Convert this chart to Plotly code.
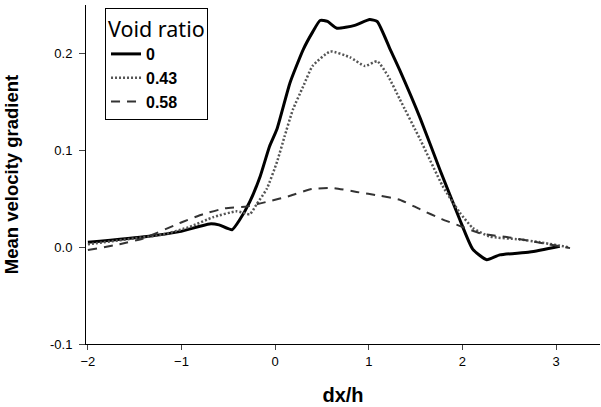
import plotly.graph_objects as go

# Void ratio = 0
x0 = [-2.0, -1.37, -1.02, -0.70, -0.60, -0.46, -0.38, -0.27, -0.16, -0.06, 0.02, 0.16, 0.30, 0.40,
      0.48, 0.56, 0.66, 0.85, 1.01, 1.09, 1.23, 1.33, 1.55, 1.76, 1.97, 2.11, 2.26, 2.40, 2.72, 3.04]
y0 = [0.005, 0.011, 0.016, 0.024, 0.023, 0.018, 0.028, 0.047, 0.073, 0.104, 0.122, 0.170, 0.204, 0.222,
      0.234, 0.233, 0.226, 0.229, 0.235, 0.233, 0.204, 0.183, 0.133, 0.080, 0.029, -0.002, -0.013, -0.008, -0.005, 0.001]

# Void ratio = 0.43
x43 = [-2.0, -1.5, -1.2, -0.91, -0.66, -0.41, -0.27, -0.20, -0.09, 0.02, 0.10, 0.19, 0.30, 0.40,
       0.59, 0.80, 0.96, 1.09, 1.21, 1.33, 1.55, 1.79, 1.97, 2.11, 2.29, 2.61, 2.83, 3.13]
y43 = [0.003, 0.009, 0.013, 0.021, 0.031, 0.037, 0.034, 0.044, 0.060, 0.088, 0.114, 0.142, 0.166, 0.187,
       0.202, 0.196, 0.187, 0.192, 0.176, 0.153, 0.111, 0.063, 0.036, 0.020, 0.011, 0.008, 0.005, 0.000]

# Void ratio = 0.58
x58 = [-2.0, -1.66, -1.41, -0.99, -0.77, -0.54, -0.30, -0.08, 0.16, 0.39, 0.62, 0.87, 1.12, 1.33,
       1.55, 1.78, 1.97, 2.2, 2.5, 2.8, 3.15]
y58 = [-0.003, 0.003, 0.009, 0.026, 0.034, 0.040, 0.042, 0.047, 0.053, 0.060, 0.061, 0.057, 0.053, 0.049,
       0.039, 0.029, 0.022, 0.014, 0.010, 0.005, -0.001]

xticks = [-2, -1, 0, 1, 2, 3]
yticks = [-0.1, 0.0, 0.1, 0.2]
ytick_labels = ["-0.1", "0.0", "0.1", "0.2"]

FONT = "Liberation Sans, Arial, sans-serif"

fig = go.Figure()
fig.add_trace(go.Scatter(x=x0, y=y0, mode="lines", name="0",
                         line=dict(color="black", width=3, shape="spline", smoothing=0.5)))
fig.add_trace(go.Scatter(x=x43, y=y43, mode="lines", name="0.43",
                         line=dict(color="#555555", width=2.5, dash="2px,2px", shape="spline", smoothing=0.5)))
fig.add_trace(go.Scatter(x=x58, y=y58, mode="lines", name="0.58",
                         line=dict(color="#333333", width=2, dash="9px,7px", shape="spline", smoothing=0.5)))

fig.update_layout(
    width=601, height=407,
    margin=dict(l=86, r=1, t=5, b=63),
    plot_bgcolor="white", paper_bgcolor="white",
    font=dict(family=FONT, color="black", size=13),
    showlegend=True,
    legend=dict(
        x=0.037, y=0.991, xanchor="left", yanchor="top",
        bordercolor="black", borderwidth=1, bgcolor="white",
        title=dict(text="Void ratio", font=dict(size=21.5, family="Noto Sans, sans-serif", weight="normal")),
        font=dict(size=16, family=FONT, weight="bold"),
    ),
    xaxis=dict(
        range=[-2.02, 3.47], tickvals=xticks, ticks="outside", ticklen=5,
        showline=True, linecolor="black", linewidth=1, showgrid=False, zeroline=False,
        tickfont=dict(size=13), automargin=False,
        title=dict(text="<b>dx/h</b>", font=dict(size=20), standoff=20),
    ),
    yaxis=dict(
        range=[-0.1, 0.25], tickvals=yticks, ticktext=ytick_labels, ticks="outside", ticklen=6,
        showline=True, linecolor="black", linewidth=1, showgrid=False, zeroline=False,
        tickfont=dict(size=13), ticklabelstandoff=4, automargin=False,
        title=dict(text="<b>Mean velocity gradient</b>", font=dict(size=18.5), standoff=26),
    ),
)

fig.write_html("out.html", config={"displayModeBar": False},
               post_script="document.body.style.margin='0px';")
